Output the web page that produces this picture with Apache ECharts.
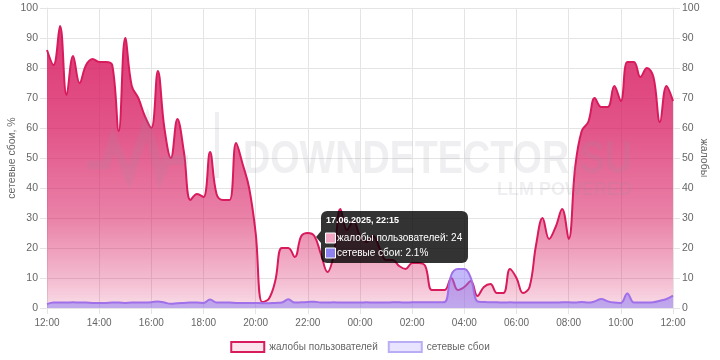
<!DOCTYPE html>
<html><head><meta charset="utf-8">
<script src="https://cdn.jsdelivr.net/npm/echarts@6.0.0/dist/echarts.min.js"></script>
<style>html,body{margin:0;padding:0;background:#fff}#c{width:720px;height:360px}</style>
</head><body><div id="c"></div>
<script>
const times = [
"12:00","12:15","12:30","12:45","13:00","13:15","13:30","13:45",
"14:00","14:15","14:30","14:45","15:00","15:15","15:30","15:45",
"16:00","16:15","16:30","16:45","17:00","17:15","17:30","17:45",
"18:00","18:15","18:30","18:45","19:00","19:15","19:30","19:45",
"20:00","20:15","20:30","20:45","21:00","21:15","21:30","21:45",
"22:00","22:15","22:30","22:45","23:00","23:15","23:30","23:45",
"00:00","00:15","00:30","00:45","01:00","01:15","01:30","01:45",
"02:00","02:15","02:30","02:45","03:00","03:15","03:30","03:45",
"04:00","04:15","04:30","04:45","05:00","05:15","05:30","05:45",
"06:00","06:15","06:30","06:45","07:00","07:15","07:30","07:45",
"08:00","08:15","08:30","08:45","09:00","09:15","09:30","09:45",
"10:00","10:15","10:30","10:45","11:00","11:15","11:30","11:45",
"12:00"];
const complaints = [
86,81,94,71,84,75,81,83,
82,82,81,59,90,74,70,64,
60,79,60,50,63,52,36,38,
37,52,38,36,36,55,48,40,
25,2,3,9,20,20,17,24,
25,24,18,12,18,33,26,29,
24,22,24,20,16,16,14,13,
15,15,14,6,6,6,10,6,
7,9,4,7,8,5,5,13,
10,5,7,21,30,23,27,33,
23,47,59,62,70,67,67,74,
69,82,82,77,80,77,62,74,
69];
const outages = [
1.3,1.8,1.8,1.8,1.9,1.8,1.8,1.7,
1.7,1.7,1.8,1.8,1.7,1.8,1.8,1.8,
1.9,2.2,1.8,1.4,1.6,1.7,1.8,1.8,
1.7,2.8,1.8,1.8,1.8,1.7,1.7,1.7,
1.7,1.6,1.6,1.7,1.8,2.9,1.8,1.9,
2.0,2.1,1.8,1.8,1.9,1.8,1.8,1.8,
1.8,1.9,1.8,1.8,1.8,1.9,1.9,1.8,
1.9,1.9,1.9,1.9,1.9,2.0,11,13,
13,10,2.2,2.0,1.9,1.9,1.8,1.9,
1.8,1.8,1.8,1.8,1.8,1.8,1.8,1.9,
1.9,1.8,2.0,1.8,2.2,3.0,2.2,1.8,
1.7,4.8,1.8,1.8,1.8,1.9,2.4,3.0,
4.1];
const seriesNames = ["жалобы пользователей", "сетевые сбои"];
const leftAxisName = "сетевые сбои, %";
const rightAxisName = "жалобы";
const tooltipDate = "17.06.2025";
const tooltipIndex = 41;

const FONT = '"Liberation Sans", Arial, Helvetica, sans-serif';
const GRID = '#e4e4e4';
const PINK = '#d81b5c';
const chart = echarts.init(document.getElementById('c'), null, {renderer: 'canvas'});

const tipTitle = tooltipDate + ', ' + times[tooltipIndex];
const tipLine1 = seriesNames[0] + ': ' + complaints[tooltipIndex];
const tipLine2 = seriesNames[1] + ': ' + outages[tooltipIndex] + '%';
const WM = 'rgba(140,142,160,0.14)';
const TZ = 200;

const option = {
  animation: false,
  textStyle: {fontFamily: FONT},
  grid: {left: 47, right: 47, top: 8, bottom: 52, outerBoundsMode: 'none', containLabel: false},
  legend: {
    left: 'center', top: 336, itemWidth: 33, itemHeight: 10, itemGap: 10,
    textStyle: {color: '#666', fontSize: 10, fontFamily: FONT},
    data: [
      {name: seriesNames[0], icon: 'rect', itemStyle: {color: 'rgba(252,228,237,1)', borderColor: PINK, borderWidth: 2}},
      {name: seriesNames[1], icon: 'rect', itemStyle: {color: 'rgba(232,228,255,1)', borderColor: '#b9aef5', borderWidth: 2}}
    ]
  },
  xAxis: {
    type: 'category', data: times, boundaryGap: false,
    axisLine: {show: true, lineStyle: {color: GRID}},
    axisTick: {show: true, interval: 7, length: 6, lineStyle: {color: GRID}},
    axisLabel: {interval: 7, color: '#666', fontSize: 10, margin: 10, fontFamily: FONT},
    splitLine: {show: true, interval: 7, lineStyle: {color: GRID}}
  },
  yAxis: [
    {
      type: 'value', position: 'left', min: 0, max: 100, interval: 10,
      name: leftAxisName, nameLocation: 'middle', nameGap: 29, nameRotate: 90, nameMoveOverlap: false,
      nameTextStyle: {color: '#666', fontSize: 10.5, fontFamily: FONT},
      axisLine: {show: true, lineStyle: {color: GRID}},
      axisTick: {show: true, length: 7, lineStyle: {color: GRID}},
      axisLabel: {color: '#666', fontSize: 10.5, margin: 9, fontFamily: FONT},
      splitLine: {show: true, lineStyle: {color: GRID}}
    },
    {
      type: 'value', position: 'right', min: 0, max: 100, interval: 10,
      name: rightAxisName, nameLocation: 'middle', nameGap: 25, nameRotate: -90, nameMoveOverlap: false,
      nameTextStyle: {color: '#666', fontSize: 10.5, fontFamily: FONT},
      axisLine: {show: true, lineStyle: {color: GRID}},
      axisTick: {show: true, length: 7, lineStyle: {color: GRID}},
      axisLabel: {color: '#666', fontSize: 10.5, margin: 9, fontFamily: FONT},
      splitLine: {show: false}
    }
  ],
  series: [
    {
      name: seriesNames[0], type: 'line', yAxisIndex: 1, data: complaints,
      smooth: 0.4, symbol: 'none', z: 2,
      lineStyle: {color: PINK, width: 2},
      itemStyle: {color: PINK},
      areaStyle: {opacity: 1, color: new echarts.graphic.LinearGradient(0, 8, 0, 308, [
        {offset: 0, color: 'rgba(216,27,96,0.9)'},
        {offset: 0.4, color: 'rgba(216,27,96,0.75)'},
        {offset: 0.7, color: 'rgba(216,27,96,0.55)'},
        {offset: 0.9, color: 'rgba(216,27,96,0.3)'},
        {offset: 1, color: 'rgba(216,27,96,0.15)'}
      ], true)}
    },
    {
      name: seriesNames[1], type: 'line', yAxisIndex: 0, data: outages,
      smooth: 0.4, symbol: 'none', z: 3,
      lineStyle: {color: '#a070ea', width: 2},
      itemStyle: {color: '#a070ea'},
      areaStyle: {opacity: 1, color: 'rgba(135,115,245,0.5)'}
    }
  ],
  graphic: [
    {type: 'polyline', z: 90, silent: true,
     shape: {points: [[87,165],[106,165],[113,140],[129,177],[147,124],[160,176],[167,160],[188,160]]},
     style: {stroke: WM, lineWidth: 9, fill: null, lineJoin: 'miter'}},
    {type: 'rect', z: 90, silent: true, shape: {x: 215, y: 112, width: 4, height: 66}, style: {fill: WM}},
    {type: 'text', z: 90, silent: true, x: 243, y: 160, scaleX: 0.82,
     style: {text: 'DOWNDETECTOR.SU', font: 'bold 46px "Liberation Sans", Arial, sans-serif', fill: WM, verticalAlign: 'middle', align: 'left'}},
    {type: 'text', z: 90, silent: true, x: 632, y: 190,
     style: {text: 'LLM POWERED', font: 'bold 18px "Liberation Sans", Arial, sans-serif', fill: WM, verticalAlign: 'middle', align: 'right'}},
    {type: 'polygon', z: TZ, silent: true, shape: {points: [[316,237],[321,231],[321,243]]}, style: {fill: 'rgba(0,0,0,0.8)'}},
    {type: 'rect', z: TZ, silent: true, shape: {x: 321, y: 211, width: 147, height: 52, r: 6}, style: {fill: 'rgba(0,0,0,0.8)'}},
    {type: 'text', z: TZ + 1, silent: true, style: {x: 326, y: 221, text: tipTitle, font: 'bold 9px ' + FONT, fill: '#fff', verticalAlign: 'middle'}},
    {type: 'rect', z: TZ + 1, silent: true, shape: {x: 325.5, y: 233, width: 10, height: 10}, style: {fill: '#f2a6c4', stroke: '#fff', lineWidth: 1}},
    {type: 'text', z: TZ + 1, silent: true, style: {x: 337, y: 238.5, text: tipLine1, font: '10px ' + FONT, fill: '#fff', verticalAlign: 'middle'}},
    {type: 'rect', z: TZ + 1, silent: true, shape: {x: 325.5, y: 248, width: 10, height: 10}, style: {fill: '#8e82f0', stroke: '#fff', lineWidth: 1}},
    {type: 'text', z: TZ + 1, silent: true, style: {x: 337, y: 253.5, text: tipLine2, font: '10px ' + FONT, fill: '#fff', verticalAlign: 'middle'}}
  ]
};
chart.setOption(option);
</script>
</body></html>
